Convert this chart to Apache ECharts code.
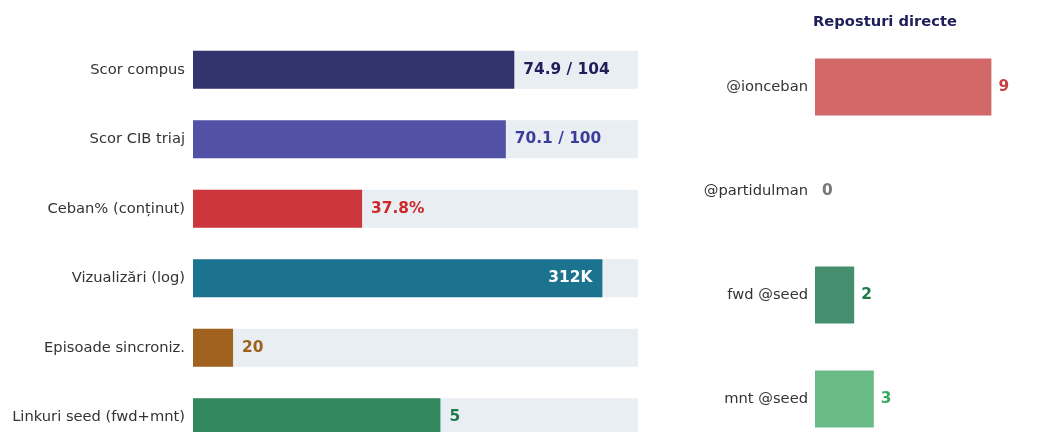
<!DOCTYPE html>
<html>
<head>
<meta charset="utf-8">
<script src="https://cdn.jsdelivr.net/npm/echarts@6/dist/echarts.min.js"></script>
<style>
  html, body { margin: 0; padding: 0; background: #fff; }
  #chart { width: 1043px; height: 432px; }
</style>
</head>
<body>
<div id="chart"></div>
<script>
// left panel: metrics, bar length is share of the track
const metricNames = ["Scor compus", "Scor CIB triaj", "Ceban% (conținut)", "Vizualizări (log)", "Episoade sincroniz.", "Linkuri seed (fwd+mnt)"];
const metricShare = [0.722, 0.703, 0.380, 0.920, 0.09, 0.556];
const metricText = ["74.9 / 104", "70.1 / 100", "37.8%", "312K", "20", "5"];

// right panel: direct reposts
const repostNames = ["@ionceban", "@partidulman", "fwd @seed", "mnt @seed"];
const repostCounts = [9, 0, 2, 3];

const metricColors = ["#33336e", "#5152a5", "#cc363d", "#1c7390", "#a0621e", "#33875d"];
const metricTextColors = ["#1e1e5a", "#3c3c9c", "#cc2a2a", "#ffffff", "#a0601a", "#1e7a4c"];
const repostColors = ["#d26868", "#999999", "#458f6f", "#6aba85"];
const repostTextColors = ["#c84040", "#777777", "#1e7a4c", "#3aa860"];

const font = "DejaVu Sans";

const chart = echarts.init(document.getElementById("chart"), null, { renderer: "canvas" });

const option = {
  backgroundColor: "#ffffff",
  animation: false,
  textStyle: { fontFamily: font },
  title: {
    text: "Reposturi directe",
    left: 880,
    top: 10,
    textAlign: "center",
    textStyle: { fontFamily: font, fontSize: 14.7, fontWeight: "bold", color: "#1e1e5a" }
  },
  grid: [
    { left: 193, width: 445, top: 35, height: 417, containLabel: false, outerBoundsMode: "none" },
    { left: 815, width: 196, top: 35, height: 416, containLabel: false, outerBoundsMode: "none" }
  ],
  xAxis: [
    { gridIndex: 0, type: "value", min: 0, max: 1, show: false },
    { gridIndex: 1, type: "value", min: 0, max: 10, show: false }
  ],
  yAxis: [
    {
      gridIndex: 0, type: "category", data: metricNames, inverse: true,
      axisLine: { show: false }, axisTick: { show: false },
      axisLabel: { fontFamily: font, fontSize: 14.7, color: "#333333", margin: 8 }
    },
    {
      gridIndex: 1, type: "category", data: repostNames, inverse: true,
      axisLine: { show: false }, axisTick: { show: false },
      axisLabel: { fontFamily: font, fontSize: 14.7, color: "#333333", margin: 7 }
    }
  ],
  series: [
    {
      type: "bar",
      xAxisIndex: 0, yAxisIndex: 0,
      barWidth: "55%",
      showBackground: true,
      backgroundStyle: { color: "#e9eef3" },
      data: metricShare.map((v, i) => ({
        value: v,
        itemStyle: { color: metricColors[i] },
        label: {
          show: true,
          position: metricText[i] === "312K" ? "insideRight" : "right",
          distance: metricText[i] === "312K" ? 10 : 9,
          formatter: metricText[i],
          color: metricTextColors[i],
          fontFamily: font,
          fontSize: 15.4,
          fontWeight: "bold"
        }
      }))
    },
    {
      type: "bar",
      xAxisIndex: 1, yAxisIndex: 1,
      barWidth: "55%",
      data: repostCounts.map((v, i) => ({
        value: v,
        itemStyle: { color: repostColors[i] },
        label: {
          show: true,
          position: "right",
          distance: 7,
          color: repostTextColors[i],
          fontFamily: font,
          fontSize: 15.4,
          fontWeight: "bold"
        }
      }))
    }
  ]
};

chart.setOption(option);
</script>
</body>
</html>
